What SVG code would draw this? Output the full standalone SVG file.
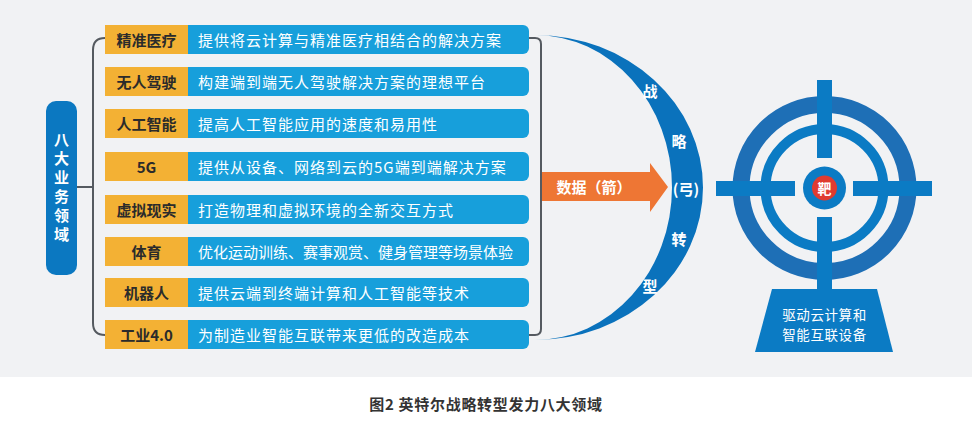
<svg xmlns="http://www.w3.org/2000/svg" width="972" height="424" viewBox="0 0 972 424">
<style>
text{font-family:"Noto Sans CJK SC","Liberation Sans",sans-serif}
.lab{fill:#f3b134}
.desc{fill:#179fdb}
.lt{font-size:15px;font-weight:bold;fill:#2b2b2b;text-anchor:middle;dominant-baseline:central}
.dt{font-size:15px;fill:#ffffff;letter-spacing:1px;dominant-baseline:central}
.wb{fill:#ffffff;font-weight:bold;text-anchor:middle;dominant-baseline:central}
.con{fill:none;stroke:#555a60;stroke-width:2}
.tb{fill:#0b7bc4}
</style>
<rect x="0" y="0" width="972" height="377" fill="#f1f2f4"/>
<rect x="0" y="377" width="972" height="47" fill="#ffffff"/>

<g id="connectors">
<path class="con" d="M77 187 H93"/>
<path class="con" d="M105 38 Q93 38 93 50 V323 Q93 335 105 335"/>
<path class="con" d="M529 38 H535 Q541 38 541 44 V329 Q541 335 535 335 H529"/>
</g>

<g id="node-domains">
<rect x="46" y="101" width="31" height="174" rx="10" fill="#0b78c1"/>
<text x="61.5" y="132" writing-mode="tb" font-size="15" font-weight="bold" fill="#ffffff" letter-spacing="4">八大业务领域</text>
</g>

<g id="row1"><rect class="desc" x="180" y="25" width="349" height="29" rx="6"/><rect class="lab" x="105" y="25" width="83" height="29"/><text class="lt" x="146.5" y="39.5">精准医疗</text><text class="dt" x="198" y="39.5">提供将云计算与精准医疗相结合的解决方案</text></g>
<g id="row2"><rect class="desc" x="180" y="67" width="349" height="29" rx="6"/><rect class="lab" x="105" y="67" width="83" height="29"/><text class="lt" x="146.5" y="81.5">无人驾驶</text><text class="dt" x="198" y="81.5">构建端到端无人驾驶解决方案的理想平台</text></g>
<g id="row3"><rect class="desc" x="180" y="109" width="349" height="29" rx="6"/><rect class="lab" x="105" y="109" width="83" height="29"/><text class="lt" x="146.5" y="123.5">人工智能</text><text class="dt" x="198" y="123.5">提高人工智能应用的速度和易用性</text></g>
<g id="row4"><rect class="desc" x="180" y="152" width="349" height="29" rx="6"/><rect class="lab" x="105" y="152" width="83" height="29"/><text class="lt" x="146.5" y="166.5">5G</text><text class="dt" x="198" y="166.5">提供从设备、网络到云的5G端到端解决方案</text></g>
<g id="row5"><rect class="desc" x="180" y="195" width="349" height="29" rx="6"/><rect class="lab" x="105" y="195" width="83" height="29"/><text class="lt" x="146.5" y="209.5">虚拟现实</text><text class="dt" x="198" y="209.5">打造物理和虚拟环境的全新交互方式</text></g>
<g id="row6"><rect class="desc" x="180" y="237" width="349" height="29" rx="6"/><rect class="lab" x="105" y="237" width="83" height="29"/><text class="lt" x="146.5" y="251.5">体育</text><text class="dt" x="198" y="251.5" style="letter-spacing:0">优化运动训练、赛事观赏、健身管理等场景体验</text></g>
<g id="row7"><rect class="desc" x="180" y="278" width="349" height="29" rx="6"/><rect class="lab" x="105" y="278" width="83" height="29"/><text class="lt" x="146.5" y="292.5">机器人</text><text class="dt" x="198" y="292.5">提供云端到终端计算和人工智能等技术</text></g>
<g id="row8"><rect class="desc" x="180" y="320" width="349" height="29" rx="6"/><rect class="lab" x="105" y="320" width="83" height="29"/><text class="lt" x="146.5" y="334.5">工业4.0</text><text class="dt" x="198" y="334.5">为制造业智能互联带来更低的改造成本</text></g>

<g id="node-arrow">
<polygon points="542,172 650,172 650,163 668,187 650,212 650,201 542,201" fill="#ee7634"/>
<text class="wb" font-size="15" x="594" y="186.5">数据（箭）</text>
</g>

<g id="node-bow">
<path d="M535 35 A168 152.5 0 0 1 535 340 A137 152.5 0 0 0 535 35 Z" fill="#0a72bc"/>
<text class="wb" font-size="15" x="650" y="90">战</text>
<text class="wb" font-size="15" x="679" y="140">略</text>
<text class="wb" font-size="15" x="686" y="188">(弓)</text>
<text class="wb" font-size="15" x="679" y="238">转</text>
<text class="wb" font-size="15" x="650" y="285">型</text>
</g>

<g id="node-target">
<circle cx="824.5" cy="188" r="83.5" fill="none" stroke="#1e6fb6" stroke-width="17"/>
<circle cx="824.5" cy="188" r="59" fill="none" stroke="#0b7bc4" stroke-width="10"/>
<rect class="tb" x="716" y="181" width="79" height="15"/>
<rect class="tb" x="853" y="181" width="79" height="15"/>
<rect class="tb" x="817" y="80" width="15" height="78"/>
<rect class="tb" x="817" y="217" width="15" height="73"/>
<circle cx="824.5" cy="188" r="21.5" fill="#0b7bc4"/>
<circle cx="824.5" cy="188" r="12.5" fill="#e03b2f"/>
<text class="wb" font-size="14" x="824.5" y="188">靶</text>
<polygon points="772,289 877,289 893,352 755,352" fill="#0b7bc4"/>
<text class="wb" font-size="13.5" style="font-weight:normal;letter-spacing:0.6px" x="824.5" y="314"><tspan x="824.5" y="314">驱动云计算和</tspan><tspan x="824.5" y="334">智能互联设备</tspan></text>
</g>

<text x="486" y="403" font-size="15" font-weight="bold" fill="#333333" text-anchor="middle" dominant-baseline="central" letter-spacing="0.7">图2  英特尔战略转型发力八大领域</text>
</svg>
